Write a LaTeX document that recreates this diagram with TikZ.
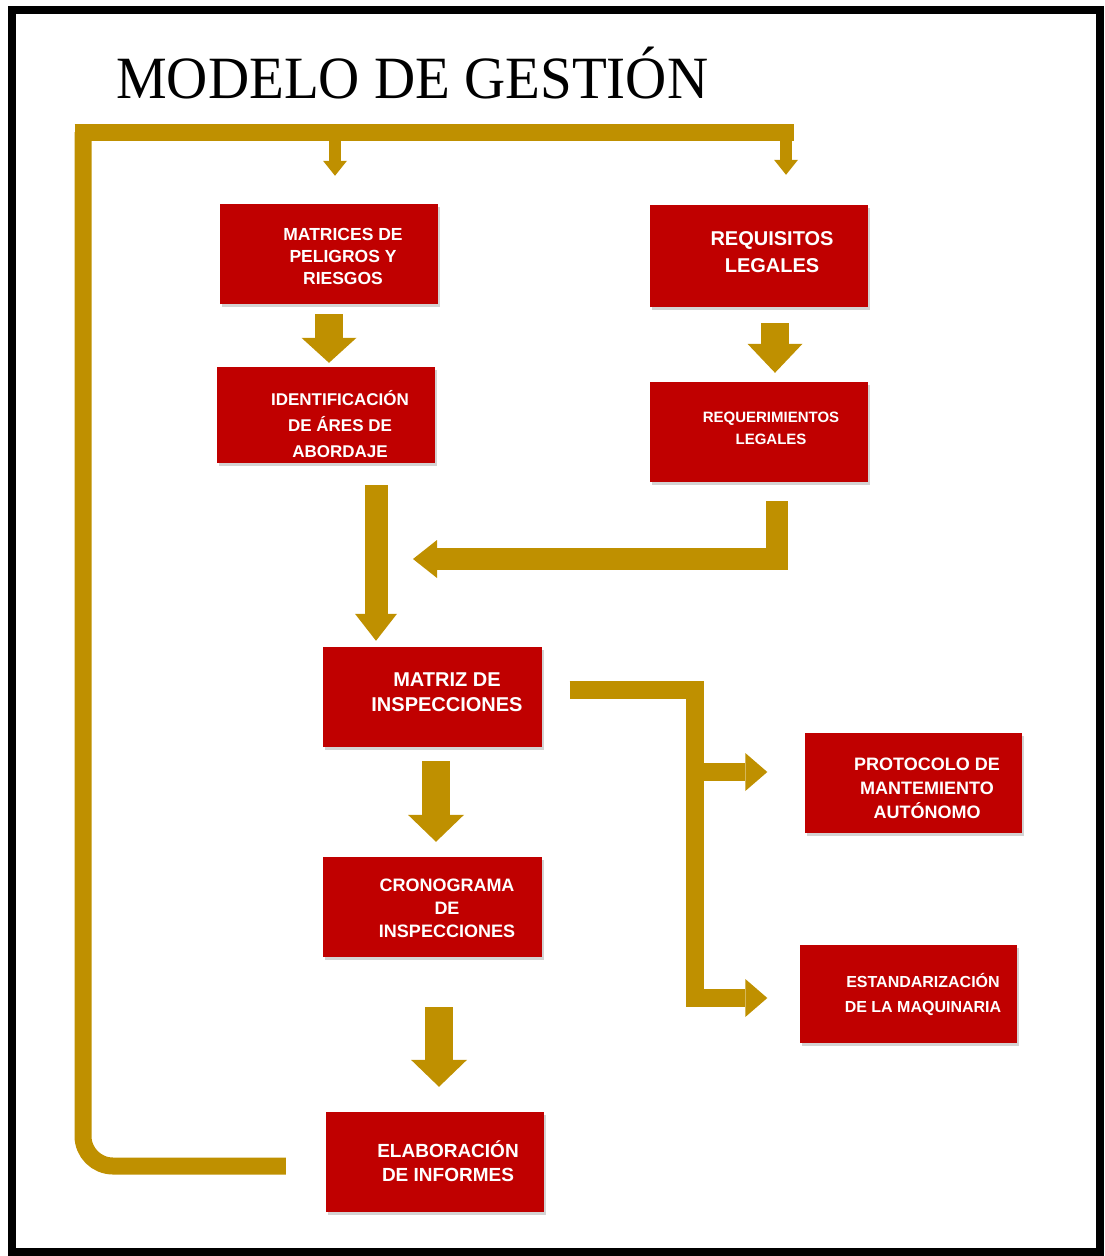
\documentclass[tikz,border=0pt]{standalone}
\usepackage{fontspec}
\usepackage{graphicx}
\newfontfamily\cajafont{Liberation Sans}
\newfontfamily\titfont{Liberation Serif}
\usetikzlibrary{arrows.meta,shadows}
\definecolor{rojo}{RGB}{192,0,0}
\definecolor{oro}{RGB}{191,144,0}

\begin{document}
\begin{tikzpicture}[x=1pt,y=-1pt,
  caja/.style={fill=rojo, minimum width=218pt, minimum height=100pt, inner sep=0pt,
    drop shadow={shadow xshift=2pt,shadow yshift=-3pt,opacity=0.35}},
  txt/.style={text=white, align=center, inner sep=0pt},
  flecha/.style={draw=oro, line width=28pt, -{Triangle[width=56pt,length=27pt,line width=0pt]}},
  flechita/.style={draw=oro, line width=12pt, -{Triangle[width=24pt,length=15pt,line width=0pt]}},
  ramal/.style={draw=oro, line width=18pt, -{Triangle[width=38pt,length=22pt,line width=0pt]}},
  lazo/.style={draw=oro, line width=17pt}]
\useasboundingbox (0,0) rectangle (1105,1256);
% Marco
\draw[line width=8pt] (12,10) rectangle (1100,1252);

% Titulo
\node[anchor=base west, inner sep=0pt, font=\titfont\fontsize{60}{62}\selectfont] (tit) at (116,98)
  {\scalebox{0.95}[1]{MODELO DE GESTIÓN}};

% Cajas
\node[caja] (mpr) at (329,254) {};
\node[caja, minimum height=96pt] (ida) at (326,415) {};
\node[caja, minimum height=102pt] (req) at (759,256) {};
\node[caja] (rl) at (759,432) {};
\node[caja, minimum width=219pt] (mdi) at (432,697) {};
\node[caja, minimum width=217pt] (pma) at (913,783) {};
\node[caja, minimum width=217pt, minimum height=98pt] (edm) at (908,994) {};
\node[caja, minimum width=219pt] (cdi) at (432,907) {};
\node[caja] (ei) at (435,1162) {};

% Textos
\node[txt, font=\cajafont\bfseries\fontsize{17.5}{22}\selectfont, xshift=14pt, yshift=-2pt] (t-mpr) at (mpr.center)
  {MATRICES DE\\PELIGROS Y\\RIESGOS};
\node[txt, font=\cajafont\bfseries\fontsize{17}{26}\selectfont, xshift=14pt, yshift=-9pt] (t-ida) at (ida.center)
  {IDENTIFICACIÓN\\DE ÁRES DE\\ABORDAJE};
\node[txt, font=\cajafont\bfseries\fontsize{20}{27}\selectfont, xshift=13pt, yshift=4pt] (t-req) at (req.center)
  {REQUISITOS\\LEGALES};
\node[txt, font=\cajafont\bfseries\fontsize{15}{22}\selectfont, xshift=12pt, yshift=4pt] (t-rl) at (rl.center)
  {REQUERIMIENTOS\\LEGALES};
\node[txt, font=\cajafont\bfseries\fontsize{20}{25}\selectfont, xshift=15pt, yshift=5pt] (t-mdi) at (mdi.center)
  {MATRIZ DE\\INSPECCIONES};
\node[txt, font=\cajafont\bfseries\fontsize{18}{24}\selectfont, xshift=14pt, yshift=-5pt] (t-pma) at (pma.center)
  {PROTOCOLO DE\\MANTEMIENTO\\AUTÓNOMO};
\node[txt, font=\cajafont\bfseries\fontsize{16}{25}\selectfont, xshift=15pt] (t-edm) at (edm.center)
  {ESTANDARIZACIÓN\\DE LA MAQUINARIA};
\node[txt, font=\cajafont\bfseries\fontsize{18}{23}\selectfont, xshift=15pt, yshift=-1pt] (t-cdi) at (cdi.center)
  {CRONOGRAMA\\DE\\INSPECCIONES};
\node[txt, font=\cajafont\bfseries\fontsize{19}{24}\selectfont, xshift=13pt, yshift=1pt] (t-ei) at (ei.center)
  {ELABORACIÓN\\DE INFORMES};

% Puntos libres
\coordinate (jun) at (413,559);
\coordinate (fin) at (695,1007);
\coordinate (b1) at (695,772);
\coordinate (b2) at (695,998);
\coordinate (esq) at (83,132);

% Lazo de retroalimentacion
\draw[lazo, rounded corners=30pt] ([xshift=-40pt,yshift=-4pt]ei.west) -| (esq);
\draw[lazo] ([xshift=-8.5pt]esq) -- (794,132);
\draw[flechita] ([xshift=6pt,yshift=71pt]mpr.north) -- ([xshift=6pt,yshift=28pt]mpr.north);
\draw[flechita] ([xshift=27pt,yshift=73pt]req.north) -- ([xshift=27pt,yshift=30pt]req.north);

% Flechas entre cajas
\draw[flecha, -{Triangle[width=55pt,length=25pt,line width=0pt]}] ([yshift=-10pt]mpr.south) -- ([xshift=3pt,yshift=4pt]ida.north);
\draw[flecha, -{Triangle[width=55pt,length=29pt,line width=0pt]}] ([xshift=16pt,yshift=-16pt]req.south) -- ([xshift=16pt,yshift=9pt]rl.north);
\draw[flecha, line width=23pt, -{Triangle[width=42pt,length=27pt,line width=0pt]}] ([xshift=50pt,yshift=-22pt]ida.south) -- ([xshift=-56pt,yshift=6pt]mdi.north);
\draw[flecha, line width=22pt, -{Triangle[width=38pt,length=24pt,line width=0pt]}] ([xshift=18pt,yshift=-19pt]rl.south) |- (jun);
\draw[flecha] ([xshift=4pt,yshift=-14pt]mdi.south) -- ([xshift=4pt,yshift=15pt]cdi.north);
\draw[flecha] ([xshift=7pt,yshift=-50pt]cdi.south) -- ([xshift=4pt,yshift=25pt]ei.north);

% Salidas de la matriz
\draw[lazo, line width=18pt] ([xshift=28pt,yshift=7pt]mdi.east) -| (fin);
\draw[ramal] (b1) -- ([xshift=-37pt,yshift=11pt]pma.west);
\draw[ramal] (b2) -- ([xshift=-32pt,yshift=-4pt]edm.west);
\end{tikzpicture}
\end{document}
